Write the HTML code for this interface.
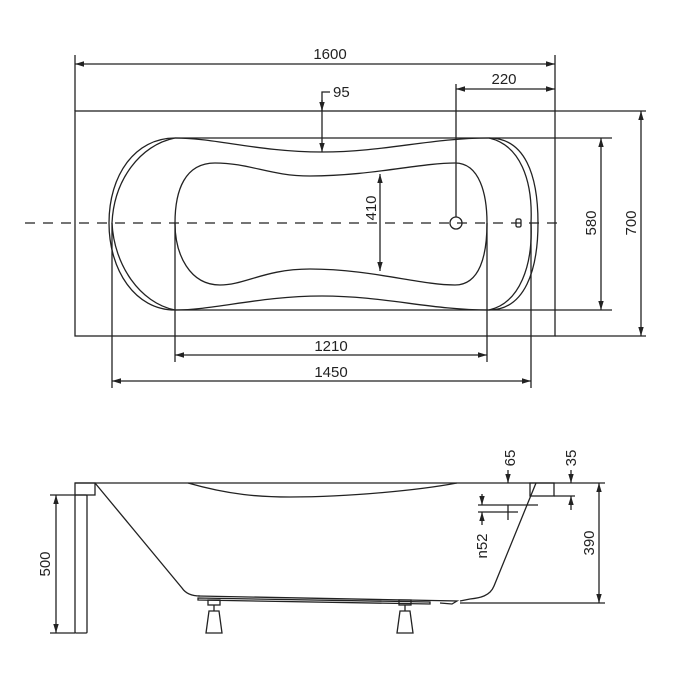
<!DOCTYPE html>
<html><head><meta charset="utf-8"><style>
html,body{margin:0;padding:0;background:#fff;}
svg{display:block;font-family:"Liberation Sans",sans-serif;}
text{font-size:15px;fill:#222;}
</style></head><body>
<svg width="686" height="695" viewBox="0 0 686 695" xmlns="http://www.w3.org/2000/svg">
<defs>
<marker id="a" viewBox="0 0 10 10" refX="10" refY="5" markerWidth="7" markerHeight="7" orient="auto-start-reverse"><path d="M0,2 L10,5 L0,8 z" fill="#222"/></marker>
</defs>
<g stroke="#222" fill="none" stroke-width="1.3">
<rect x="75" y="111" width="480" height="225"/>
<line x1="25" y1="223" x2="562" y2="223" stroke-dasharray="10,8"/>
<path d="M175,138 C215,138 260,152 322,152 C385,152 430,138 489,138 C525,138 538,175 538,223 C538,270 525,310 489,310 C430,310 385,296 322,296 C260,296 215,310 175,310 C135,310 109,270 109,223 C109,175 135,138 175,138 Z"/>
<path d="M175,138 C140,145 114,180 112,223 C114,265 140,303 175,310" />
<path d="M489,138 C520,145 533,180 531,223 C533,265 520,303 489,310"/>
<line x1="175" y1="138" x2="489" y2="138"/>
<line x1="175" y1="310" x2="489" y2="310"/>
<path d="M215,163 C250,163 270,176 310,176 C370,176 420,163 455,163 C480,163 487,195 487,223 C487,255 480,285 455,285 C420,285 370,269 310,269 C265,269 245,285 220,285 C190,285 175,255 175,223 C175,190 185,163 215,163 Z"/>
<circle cx="456" cy="223" r="6"/>
<rect x="516" y="219" width="5" height="8" rx="1.5"/>
<line x1="75" y1="111" x2="75" y2="55"/><line x1="555" y1="111" x2="555" y2="55"/>
<line x1="75" y1="64" x2="555" y2="64" marker-start="url(#a)" marker-end="url(#a)"/>
<line x1="456" y1="84" x2="456" y2="217"/>
<line x1="456" y1="89" x2="555" y2="89" marker-start="url(#a)" marker-end="url(#a)"/>
<polyline points="330,92 322,92 322,111"/>
<line x1="322" y1="100" x2="322" y2="111" marker-end="url(#a)"/>
<line x1="322" y1="111" x2="322" y2="152" marker-end="url(#a)"/>
<line x1="380" y1="174" x2="380" y2="271" marker-start="url(#a)" marker-end="url(#a)"/>
<line x1="489" y1="138" x2="612" y2="138"/><line x1="489" y1="310" x2="612" y2="310"/>
<line x1="601" y1="138" x2="601" y2="310" marker-start="url(#a)" marker-end="url(#a)"/>
<line x1="555" y1="111" x2="646" y2="111"/><line x1="555" y1="336" x2="646" y2="336"/>
<line x1="641" y1="111" x2="641" y2="336" marker-start="url(#a)" marker-end="url(#a)"/>
<line x1="175" y1="223" x2="175" y2="362"/><line x1="487" y1="223" x2="487" y2="362"/>
<line x1="175" y1="355" x2="487" y2="355" marker-start="url(#a)" marker-end="url(#a)"/>
<line x1="112" y1="223" x2="112" y2="388"/><line x1="531" y1="223" x2="531" y2="388"/>
<line x1="112" y1="381" x2="531" y2="381" marker-start="url(#a)" marker-end="url(#a)"/>

<line x1="75" y1="483" x2="554" y2="483"/>
<rect x="75" y="483" width="20" height="12"/>
<rect x="75" y="495" width="12" height="138" rx="1"/>
<rect x="530" y="483" width="24" height="13"/>
<path d="M95,483 L182,588 C186,594 192,596 200,596"/>
<path d="M188,483 C230,495 260,497 290,497 C350,497 420,490 457,483"/>
<path d="M536,483 L494,586 C490,596 480,598 470,599 L460,601"/>
<path d="M198,596 L457,601 L452,604 L440,603"/>
<path d="M198,598 L430,602 L430,604 L198,600 Z"/>
<rect x="208" y="600" width="12" height="5"/>
<rect x="399" y="600" width="12" height="5"/>
<path d="M209,611 L219,611 L222,633 L206,633 Z"/>
<path d="M400,611 L410,611 L413,633 L397,633 Z"/>
<line x1="214" y1="605" x2="214" y2="611"/><line x1="405" y1="605" x2="405" y2="611"/>
<line x1="50" y1="495" x2="75" y2="495"/><line x1="50" y1="633" x2="75" y2="633"/>
<line x1="56" y1="495" x2="56" y2="633" marker-start="url(#a)" marker-end="url(#a)"/>
<line x1="554" y1="483" x2="605" y2="483"/><line x1="460" y1="603" x2="605" y2="603"/>
<line x1="599" y1="483" x2="599" y2="603" marker-start="url(#a)" marker-end="url(#a)"/>
<line x1="508" y1="470" x2="508" y2="483" marker-end="url(#a)"/>
<line x1="571" y1="470" x2="571" y2="483" marker-end="url(#a)"/>
<line x1="571" y1="510" x2="571" y2="496" marker-end="url(#a)"/>
<line x1="554" y1="496" x2="575" y2="496"/>
<line x1="482" y1="494" x2="482" y2="505" marker-end="url(#a)"/>
<line x1="482" y1="525" x2="482" y2="512" marker-end="url(#a)"/>
<line x1="478" y1="505" x2="538" y2="505"/>
<line x1="478" y1="512" x2="518" y2="512"/>
<line x1="508" y1="505" x2="508" y2="520"/>
</g>
<g>
<text x="330" y="59" text-anchor="middle">1600</text>
<text x="504" y="84" text-anchor="middle">220</text>
<text x="333" y="97">95</text>
<text x="331" y="351" text-anchor="middle">1210</text>
<text x="331" y="377" text-anchor="middle">1450</text>
<text transform="translate(376,208) rotate(-90)" text-anchor="middle">410</text>
<text transform="translate(596,223) rotate(-90)" text-anchor="middle">580</text>
<text transform="translate(636,223) rotate(-90)" text-anchor="middle">700</text>
<text transform="translate(50,564) rotate(-90)" text-anchor="middle">500</text>
<text transform="translate(594,543) rotate(-90)" text-anchor="middle">390</text>
<text transform="translate(515,458) rotate(-90)" text-anchor="middle">65</text>
<text transform="translate(576,458) rotate(-90)" text-anchor="middle">35</text>
<text transform="translate(487,546) rotate(-90)" text-anchor="middle">n52</text>
</g>
</svg>
</body></html>
